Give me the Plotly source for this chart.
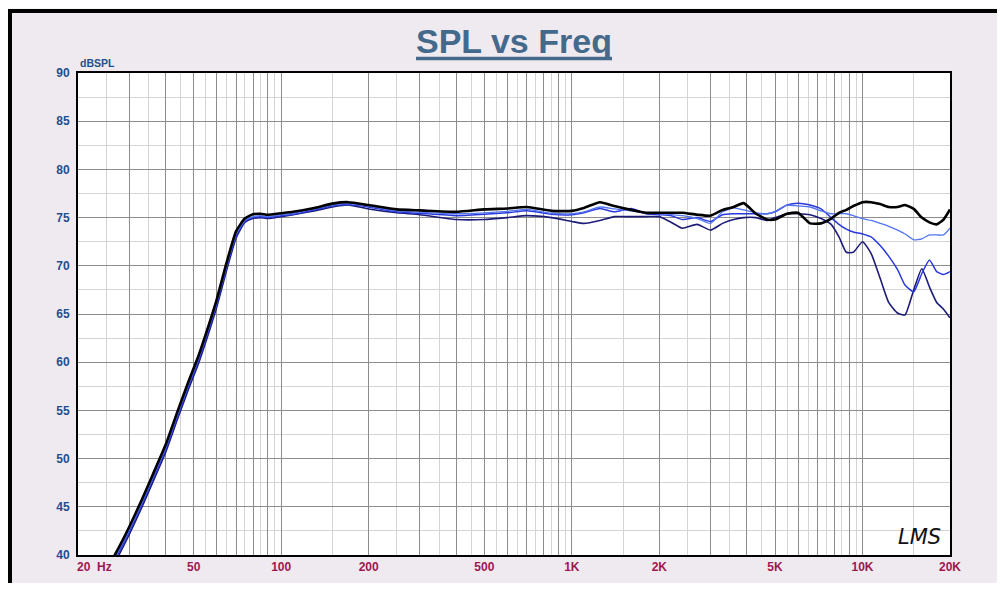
import plotly.graph_objects as go

# ---------------- data ----------------
freq = [26, 28, 30, 33, 36, 40, 44, 48, 52, 56, 60, 65, 70, 75, 80, 85, 90, 100, 110, 130,
        150, 170, 200, 250, 300, 400, 500, 600, 700, 850, 1000, 1100, 1250, 1400, 1600, 1800,
        2000, 2200, 2400, 2700, 3000, 3300, 3600, 3900, 4300, 4700, 5000, 5500, 6000, 6600,
        7200, 7800, 8300, 8800, 9300, 10000, 10700, 11500, 12300, 13200, 14000, 15000, 16000,
        17000, 18000, 19000, 20000]

spl_black = [39.3, 41.1, 42.9, 45.6, 48.2, 51.4, 54.9, 58.0, 60.7, 63.6, 66.5, 70.4, 73.6, 74.9,
             75.35, 75.4, 75.3, 75.45, 75.6, 76.0, 76.45, 76.6, 76.3, 75.85, 75.75, 75.6, 75.85,
             75.95, 76.1, 75.7, 75.7, 76.0, 76.6, 76.2, 75.8, 75.5, 75.5, 75.5, 75.5, 75.3, 75.2,
             75.8, 76.1, 76.5, 75.4, 74.8, 74.8, 75.4, 75.5, 74.4, 74.4, 74.9, 75.5, 75.8, 76.2,
             76.6, 76.6, 76.4, 76.1, 76.1, 76.3, 75.9, 75.0, 74.5, 74.3, 74.8, 75.85]

spl_navy = [38.5, 40.3, 42.1, 44.8, 47.4, 50.6, 54.1, 57.2, 59.9, 62.8, 65.7, 69.6, 72.9, 74.5,
            74.9, 75.0, 74.9, 75.1, 75.3, 75.7, 76.1, 76.3, 75.9, 75.5, 75.3, 74.8, 74.8, 75.0,
            75.2, 75.0, 74.6, 74.4, 74.7, 75.1, 75.1, 75.1, 75.1, 74.5, 73.9, 74.3, 73.7, 74.4,
            74.8, 75.0, 75.0, 74.7, 75.0, 75.4, 75.4, 75.3, 74.9, 74.3, 73.0, 71.4, 71.4, 72.5,
            71.3, 68.7, 66.2, 65.1, 64.9, 67.5, 69.7, 67.8, 66.2, 65.5, 64.6]

spl_blue = [38.8, 40.6, 42.4, 45.1, 47.7, 50.9, 54.4, 57.5, 60.2, 63.1, 66.0, 69.9, 73.1, 74.6,
            75.0, 75.1, 75.0, 75.2, 75.35, 75.8, 76.2, 76.35, 76.1, 75.6, 75.45, 75.2, 75.35,
            75.5, 75.7, 75.35, 75.3, 75.5, 75.95, 75.6, 75.95, 75.4, 75.3, 75.2, 74.8, 75.0,
            74.6, 75.3, 75.4, 75.4, 75.4, 75.4, 75.6, 76.3, 76.5, 76.3, 75.9, 75.0, 74.3, 73.8,
            73.5, 73.3, 73.0, 72.1, 71.0, 69.6, 68.0, 67.3, 69.2, 70.6, 69.4, 69.1, 69.4]

spl_light = [39.0, 40.8, 42.6, 45.3, 47.9, 51.1, 54.6, 57.7, 60.4, 63.3, 66.2, 70.1, 73.3, 74.7,
             75.1, 75.2, 75.1, 75.3, 75.45, 75.9, 76.3, 76.45, 76.2, 75.7, 75.55, 75.4, 75.5,
             75.65, 75.85, 75.45, 75.4, 75.6, 76.1, 75.9, 75.7, 75.5, 75.4, 75.3, 75.2, 74.9,
             74.4, 75.6, 76.0, 75.8, 75.5, 75.4, 75.6, 76.3, 76.2, 76.1, 75.7, 75.4, 75.4, 75.4,
             75.2, 74.9, 74.7, 74.4, 74.1, 73.7, 73.3, 72.7, 72.8, 73.2, 73.2, 73.2, 73.9]

# grid / tick positions
x_major = [30, 40, 50, 60, 70, 80, 90, 100, 200, 300, 400, 500, 600, 700, 800, 900, 1000,
           2000, 3000, 4000, 5000, 6000, 7000, 8000, 9000, 10000]
x_labels = {50: "50", 100: "100", 200: "200", 500: "500", 1000: "1K", 2000: "2K",
            5000: "5K", 10000: "10K"}
x_minor = [25, 35, 45, 55, 65, 75, 85, 95, 150, 250, 350, 450, 550, 650, 750, 850, 950,
           1500, 2500, 3500, 4500, 5500, 6500, 7500, 8500, 9500, 15000]
y_major = [40, 45, 50, 55, 60, 65, 70, 75, 80, 85, 90]
y_minor = [42.5, 47.5, 52.5, 57.5, 62.5, 67.5, 72.5, 77.5, 82.5, 87.5]

# ---------------- figure ----------------
fig = go.Figure()

series = [
    (spl_navy, "#1c1c78", 1.6),
    (spl_blue, "#2a38dc", 1.5),
    (spl_light, "#5276f2", 1.3),
    (spl_black, "#000000", 2.6),
]
for ys, col, w in series:
    fig.add_trace(go.Scatter(x=freq, y=ys, mode="lines",
                             line=dict(color=col, width=w, shape="spline", smoothing=0.5),
                             showlegend=False, hoverinfo="skip"))

# target plot-area position in the page (page has an 8px body margin)
OFF = 8
L, R, T, B = 78, 950, 73, 555
W, H = 1005 - 2 * OFF, 591 - 2 * OFF
pw, ph = R - L, B - T


def px(xp):
    return (xp - L) / pw


def py(yp):
    return (B - yp) / ph


shapes = [
    # outer panel with black frame
    dict(type="rect", xref="paper", yref="paper", x0=px(10), x1=px(1030), y0=py(620), y1=py(11),
         fillcolor="#efeaef", line=dict(color="#000000", width=4), layer="below"),
    # plot area background
    dict(type="rect", xref="paper", yref="paper", x0=0, x1=1, y0=0, y1=1,
         fillcolor="#ffffff", line=dict(width=0), layer="below"),
    # title underline
    dict(type="line", xref="paper", yref="paper", x0=px(416), x1=px(612), y0=py(58.5), y1=py(58.5),
         line=dict(color="#44698a", width=3.5)),
]

annotations = [
    dict(text="<b>SPL vs Freq</b>", xref="paper", yref="paper", x=px(514), y=py(41),
         xanchor="center", yanchor="middle", showarrow=False,
         font=dict(family="Liberation Sans", size=34, color="#44698a")),
    dict(text="<b>dBSPL</b>", xref="paper", yref="paper", x=px(78), y=py(63),
         xanchor="left", yanchor="middle", showarrow=False,
         font=dict(family="Liberation Sans", size=10.5, color="#1f4f8f")),
    dict(text="<b>20  Hz</b>", xref="paper", yref="paper", x=px(75), y=py(567),
         xanchor="left", yanchor="middle", showarrow=False,
         font=dict(family="Liberation Sans", size=12, color="#a0174f")),
    dict(text="<b>20K</b>", xref="paper", yref="paper", x=px(950), y=py(567),
         xanchor="center", yanchor="middle", showarrow=False,
         font=dict(family="Liberation Sans", size=12, color="#a0174f")),
    dict(text="<i>LMS</i>", xref="paper", yref="paper", x=px(919), y=py(537),
         xanchor="center", yanchor="middle", showarrow=False,
         font=dict(family="DejaVu Sans", size=21, color="#111111")),
]

fig.update_layout(
    width=W, height=H,
    margin=dict(l=L - OFF, r=W - pw - (L - OFF), t=T - OFF, b=H - ph - (T - OFF), pad=0,
                autoexpand=False),
    paper_bgcolor="#f7f7f7",
    plot_bgcolor="rgba(0,0,0,0)",
    shapes=shapes,
    annotations=annotations,
    showlegend=False,
)

fig.update_xaxes(
    type="log", range=[1.30103, 4.30103],
    tickmode="array", tickvals=x_major,
    ticktext=[x_labels.get(v, "") for v in x_major],
    tickfont=dict(family="Liberation Sans", size=12, color="#a0174f", weight="bold"),
    ticks="", showgrid=True, gridcolor="#8c8c8c", gridwidth=1.4,
    minor=dict(tickmode="array", tickvals=x_minor, showgrid=True, gridcolor="#d4d4d4",
               gridwidth=1.2, ticks=""),
    showline=True, linecolor="#000000", linewidth=2, mirror=True,
    zeroline=False, fixedrange=True, automargin=False,
)
fig.update_yaxes(
    range=[40, 90],
    tickmode="array", tickvals=y_major, ticktext=[str(v) for v in y_major],
    tickfont=dict(family="Liberation Sans", size=12, color="#1f4f8f", weight="bold"),
    ticks="", ticklabelstandoff=4,
    showgrid=True, gridcolor="#8c8c8c", gridwidth=1.4,
    minor=dict(tickmode="array", tickvals=y_minor, showgrid=True, gridcolor="#d4d4d4",
               gridwidth=1.2, ticks=""),
    showline=True, linecolor="#000000", linewidth=2, mirror=True,
    zeroline=False, fixedrange=True, automargin=False,
)

fig.write_html("out.html")
